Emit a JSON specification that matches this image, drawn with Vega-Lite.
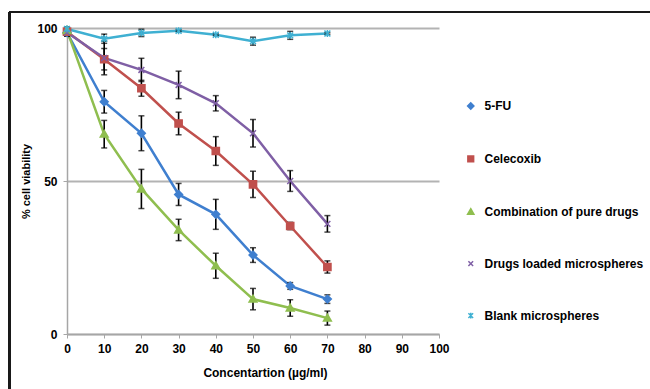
{
  "$schema": "https://vega.github.io/schema/vega-lite/v6.json",
  "width": 372,
  "height": 306,
  "autosize": {"type": "none"},
  "padding": {"left": 67, "top": 28, "right": 211, "bottom": 55},
  "background": "white",
  "config": {
    "view": {"stroke": null},
    "font": "Liberation Sans",
    "axis": {"labelFont": "Liberation Sans", "titleFont": "Liberation Sans", "labelFontWeight": "bold", "titleFontWeight": "bold", "labelColor": "#000", "titleColor": "#000", "labelOverlap": false, "labelBound": false},
    "axisX": {"labelOverlap": false, "labelSeparation": 0},
    "legend": {"symbolSize": 110}
  },
  "data": {"values": [
    {"conc": 0, "series": "5-FU", "v": 98.5, "err": 1.0},
    {"conc": 10, "series": "5-FU", "v": 75.9, "err": 3.7},
    {"conc": 20, "series": "5-FU", "v": 65.6, "err": 5.7},
    {"conc": 30, "series": "5-FU", "v": 45.6, "err": 3.6},
    {"conc": 40, "series": "5-FU", "v": 39.1, "err": 4.9},
    {"conc": 50, "series": "5-FU", "v": 25.8, "err": 2.4},
    {"conc": 60, "series": "5-FU", "v": 15.7, "err": 1.1},
    {"conc": 70, "series": "5-FU", "v": 11.4, "err": 1.4},
    {"conc": 0, "series": "Celecoxib", "v": 98.8, "err": 1.5},
    {"conc": 10, "series": "Celecoxib", "v": 89.8, "err": 3.5},
    {"conc": 20, "series": "Celecoxib", "v": 80.3, "err": 2.6},
    {"conc": 30, "series": "Celecoxib", "v": 68.8, "err": 3.7},
    {"conc": 40, "series": "Celecoxib", "v": 59.8, "err": 4.7},
    {"conc": 50, "series": "Celecoxib", "v": 48.9, "err": 4.3},
    {"conc": 60, "series": "Celecoxib", "v": 35.3, "err": 1.2},
    {"conc": 70, "series": "Celecoxib", "v": 21.9, "err": 2.0},
    {"conc": 0, "series": "Combination of pure drugs", "v": 99.2, "err": 0.5},
    {"conc": 10, "series": "Combination of pure drugs", "v": 65.3, "err": 4.5},
    {"conc": 20, "series": "Combination of pure drugs", "v": 47.4, "err": 6.4},
    {"conc": 30, "series": "Combination of pure drugs", "v": 34.0, "err": 3.5},
    {"conc": 40, "series": "Combination of pure drugs", "v": 22.3, "err": 4.1},
    {"conc": 50, "series": "Combination of pure drugs", "v": 11.4, "err": 3.5},
    {"conc": 60, "series": "Combination of pure drugs", "v": 8.5, "err": 2.7},
    {"conc": 70, "series": "Combination of pure drugs", "v": 5.2, "err": 2.3},
    {"conc": 0, "series": "Drugs loaded microspheres", "v": 98.5, "err": 1.0},
    {"conc": 10, "series": "Drugs loaded microspheres", "v": 90.2, "err": 5.5},
    {"conc": 20, "series": "Drugs loaded microspheres", "v": 86.3, "err": 3.8},
    {"conc": 30, "series": "Drugs loaded microspheres", "v": 81.4, "err": 4.5},
    {"conc": 40, "series": "Drugs loaded microspheres", "v": 75.4, "err": 2.5},
    {"conc": 50, "series": "Drugs loaded microspheres", "v": 65.6, "err": 4.5},
    {"conc": 60, "series": "Drugs loaded microspheres", "v": 50.0, "err": 3.4},
    {"conc": 70, "series": "Drugs loaded microspheres", "v": 36.0, "err": 2.7},
    {"conc": 0, "series": "Blank microspheres", "v": 99.7, "err": 0.5},
    {"conc": 10, "series": "Blank microspheres", "v": 96.5, "err": 1.5},
    {"conc": 20, "series": "Blank microspheres", "v": 98.4, "err": 1.2},
    {"conc": 30, "series": "Blank microspheres", "v": 99.1, "err": 0.3},
    {"conc": 40, "series": "Blank microspheres", "v": 97.8, "err": 0.3},
    {"conc": 50, "series": "Blank microspheres", "v": 95.7, "err": 1.3},
    {"conc": 60, "series": "Blank microspheres", "v": 97.6, "err": 1.3},
    {"conc": 70, "series": "Blank microspheres", "v": 98.2, "err": 0.3}
  ]},
  "encoding": {
    "x": {"field": "conc", "type": "quantitative", "scale": {"domain": [0, 100], "nice": false},
      "axis": {"values": [0,10,20,30,40,50,60,70,80,90,100], "title": "Concentartion (µg/ml)", "grid": false, "labelOverlap": false, "labelFlush": false, "domainColor": "#a6a6a6", "domainWidth": 1.5, "tickColor": "#a6a6a6", "tickSize": 4, "labelFontSize": 12, "labelPadding": 5, "titleFontSize": 12, "titlePadding": 13, "titleX": 198}},
    "y": {"field": "v", "type": "quantitative", "scale": {"domain": [0, 100], "nice": false},
      "axis": {"values": [0, 50, 100], "title": "% cell viability", "grid": true, "labelFlush": false, "gridColor": "#b3b3b3", "gridWidth": 1.8, "domainColor": "#a6a6a6", "domainWidth": 1.5, "tickColor": "#a6a6a6", "tickSize": 4, "labelFontSize": 12, "labelPadding": 6, "titleFontSize": 11, "titlePadding": 5}},
    "color": {"field": "series", "type": "nominal",
      "scale": {"domain": ["5-FU", "Celecoxib", "Combination of pure drugs", "Drugs loaded microspheres", "Blank microspheres"], "range": ["#3f7fcf", "#c0504d", "#8fbe4f", "#7f5fa5", "#3fb0d2"]},
      "legend": {
        "orient": "none", "legendX": 397.75, "legendY": 72, "title": null, "padding": 0,
        "symbolSize": 110, "symbolStrokeWidth": 1.5, "rowPadding": 39.9, "labelOffset": 7.75,
        "labelFont": "Liberation Sans", "labelFontSize": 12, "labelFontWeight": "bold", "labelColor": "#000"
      }}
  },
  "layer": [
    {
      "mark": {"type": "line", "strokeWidth": 2.5},
      "encoding": {"detail": {"field": "series"}}
    },
    {
      "mark": {"type": "errorbar", "ticks": {"color": "#000", "size": 6, "thickness": 1.5}, "rule": {"color": "#000", "strokeWidth": 1.6}},
      "encoding": {
        "yError": {"field": "err"},
        "color": {"value": "#000"}
      }
    },
    {
      "mark": {"type": "point", "filled": true, "opacity": 1, "strokeWidth": 1.5},
      "encoding": {
        "stroke": {"field": "series", "type": "nominal", "legend": null,
          "scale": {"domain": ["5-FU", "Celecoxib", "Combination of pure drugs", "Drugs loaded microspheres", "Blank microspheres"], "range": ["#3f7fcf", "#c0504d", "#8fbe4f", "#7f5fa5", "#3fb0d2"]}},
        "shape": {"field": "series", "type": "nominal", "legend": null,
          "scale": {"domain": ["5-FU", "Celecoxib", "Combination of pure drugs", "Drugs loaded microspheres", "Blank microspheres"], "range": ["M-0.6,0L0,-0.6L0.6,0L0,0.6Z", "M-0.55,-0.55H0.55V0.55H-0.55Z", "M0,-0.6L0.6,0.45H-0.6Z", "M-0.45,-0.45L0.45,0.45M-0.45,0.45L0.45,-0.45", "M-0.45,-0.45L0.45,0.45M-0.45,0.45L0.45,-0.45M0,-0.55V0.55"]}},
        "size": {"value": 170}
      }
    },
    {
      "mark": {"type": "rule", "color": "#1a1a1a", "strokeWidth": 2},
      "encoding": {
        "x": {"datum": -15.4, "type": "quantitative"},
        "y": {"datum": 105.2, "type": "quantitative"},
        "x2": {"datum": 156.6},
        "color": {"value": "#1a1a1a"}
      }
    },
    {
      "mark": {"type": "rule", "color": "#1a1a1a", "strokeWidth": 2},
      "encoding": {
        "x": {"datum": -15.4, "type": "quantitative"},
        "y": {"datum": 105.2, "type": "quantitative"},
        "y2": {"datum": -18.5},
        "color": {"value": "#1a1a1a"}
      }
    }
  ]
}
